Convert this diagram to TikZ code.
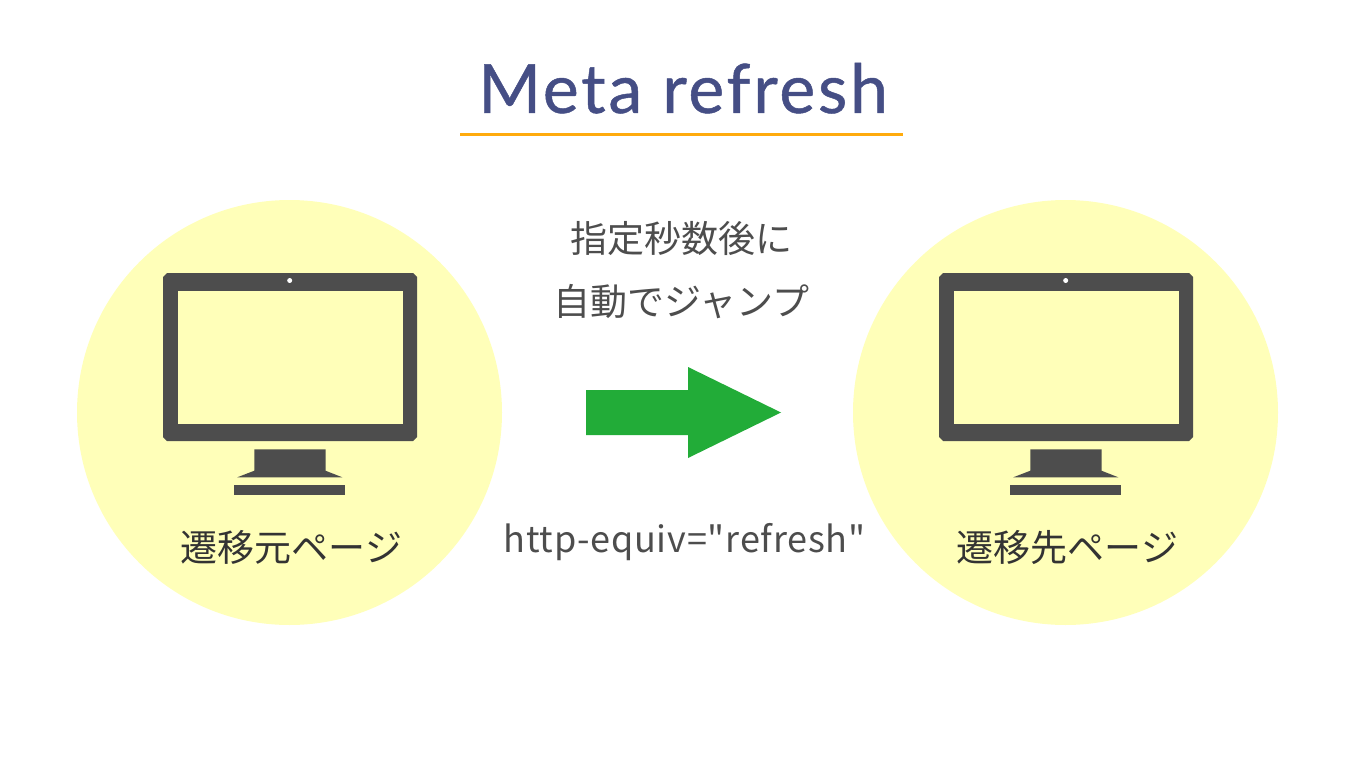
\documentclass[tikz,border=0pt]{standalone}
\usepackage{fontspec}
\setmainfont{Noto Sans CJK JP}
\newfontfamily\jpfont{Noto Sans CJK JP}
\newfontfamily\httpfont[LetterSpace=2.1]{Noto Sans CJK JP}
\newfontfamily\titlefont[LetterSpace=4,FakeBold=0.7]{Lato}
\definecolor{ink}{HTML}{4D4D4D}
\definecolor{disc}{HTML}{FFFFB9}
\definecolor{titleblue}{HTML}{454E85}
\definecolor{rule}{HTML}{FFAB0D}
\definecolor{arrowgreen}{HTML}{22AC38}
\tikzset{x=1pt,y=-1pt,
 discnode/.style={circle,fill=disc,minimum size=425pt,inner sep=0,draw=none},
 lbl/.style={text=ink,font=\jpfont\fontsize{37}{40}\selectfont,inner sep=0},
 pagelbl/.style={text=black!80,font=\jpfont\fontsize{37}{40}\selectfont,inner sep=0},
}
\newcommand{\monitor}[1]{%
 \begin{scope}[xshift=#1]
 \fill[ink] (167,273) -- (413,273) -- (417,277) -- (417,437) -- (413,441) -- (167,441) -- (163,437) -- (163,277) -- cycle;
 \fill[disc] (177.5,291) rectangle (402.5,424);
 \fill[white] (289.7,280.5) circle (2.5);
 \fill[ink] (254.3,449.3) -- (325.5,449.3) -- (325.5,470.7) -- (342.3,477.3) -- (237.3,477.3) -- (254.3,470.7) -- cycle;
 \fill[ink] (234.3,484.7) rectangle (344.8,494.8);
 \end{scope}}
\begin{document}
\begin{tikzpicture}
\useasboundingbox (0,0) rectangle (1366,768);
\fill[white] (0,0) rectangle (1366,768);
\node[text=titleblue,font=\titlefont\fontsize{68}{72}\selectfont,inner sep=0,anchor=base] (title) at (683,113) {Meta refresh};
\coordinate (ra) at (460,134.5); \coordinate (rb) at (903,134.5);
\draw[rule,line width=3pt] (ra) -- (rb);
\node[discnode] (d1) at (289.5,412.5) {};
\node[discnode] (d2) at (1065.5,412.5) {};
\monitor{0pt}
\monitor{776pt}
\node[pagelbl] (l1) at (291.5,547.5) {遷移元ページ};
\node[pagelbl] (l2) at (1067.5,547.5) {遷移先ページ};
\node[lbl] (t1) at (681.5,238.5) {指定秒数後に};
\node[lbl] (t2) at (681.5,301.5) {自動でジャンプ};
\node[lbl,font=\httpfont\fontsize{36}{40}\selectfont] (t3) at (684.5,542) {http-equiv="refresh"};
\fill[arrowgreen] (586,390) -- (688,390) -- (688,367) -- (781,412.5) -- (688,458) -- (688,435) -- (586,435) -- cycle;
\end{tikzpicture}
\end{document}
